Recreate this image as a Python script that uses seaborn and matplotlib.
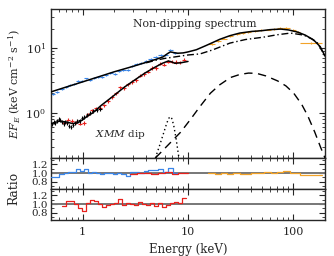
import matplotlib
matplotlib.use('Agg')
import matplotlib.pyplot as plt
import matplotlib.ticker as mticker
import numpy as np
import seaborn as sns

# ---- colours ----
BLUE = '#3b86e8'
RED = '#e8211d'
ORANGE = '#f2a329'

# ---- non-dipping model (solid) ----
nondip_E = [0.5, 0.7, 1, 1.5, 2, 3, 4, 5, 5.8, 6.4, 6.8, 7.3, 8, 9, 10, 12, 15, 20, 25, 31,
            40, 50, 60, 76, 90, 110, 130, 156, 180, 200]
nondip_F = [2.1, 2.5, 3.0, 3.7, 4.3, 5.2, 6.0, 6.7, 7.3, 8.2, 8.7, 8.5, 8.3, 8.4, 8.7, 9.4, 11.0,
            13.6, 15.5, 17.0, 18.0, 18.5, 19.2, 19.6, 19.0, 17.6, 15.8, 13.3, 10.5, 7.5]

# ---- continuum component (dash-dot) ----
cont_E = [4, 5, 6, 8, 10, 13, 17, 25, 35, 52, 70, 94, 126, 150, 170, 200]
cont_F = [5.9, 6.5, 6.9, 7.4, 7.8, 8.1, 9.3, 11.9, 13.5, 14.7, 16.0, 17.0, 15.8, 13.8, 11.9, 7.5]

# ---- reflection bump (dashed) ----
refl_E = [4.9, 6.5, 8.5, 10.5, 13, 16.3, 20, 25.3, 31, 37.6, 45, 55, 71, 85, 101, 120, 137, 160, 182, 200]
refl_F = [0.2, 0.32, 0.5, 0.78, 1.25, 2.0, 2.7, 3.5, 3.9, 4.1, 4.05, 3.7, 3.1, 2.6, 2.0, 1.35, 0.9, 0.5, 0.29, 0.2]

# ---- iron line (dotted) ----
line_E = [4.9, 5.4, 5.9, 6.3, 6.6, 6.8, 7.0, 7.3, 7.7, 8.2]
line_F = [0.2, 0.32, 0.5, 0.7, 0.83, 0.87, 0.82, 0.65, 0.4, 0.2]

# ---- dip model (solid through red) ----
dip_E = [0.5, 0.6, 0.7, 0.8, 0.9, 1.0, 1.1, 1.25, 1.5, 1.9, 2.5, 3.2, 3.9, 4.8, 5.7, 6.5, 7.0, 7.5, 8.5, 10]
dip_F = [0.68, 0.74, 0.72, 0.68, 0.7, 0.78, 0.88, 1.0, 1.3, 1.75, 2.5, 3.3, 4.1, 5.0, 5.8, 6.3, 6.1, 5.8, 5.9, 6.2]

# ---- blue data (non-dip, soft) ----
blue_edges = [0.5, 0.55, 0.6, 0.66, 0.72, 0.79, 0.86, 0.94, 1.03, 1.12, 1.22, 1.33, 1.45, 1.6, 1.75,
              1.92, 2.1, 2.3, 2.55, 2.8, 3.1, 3.4, 3.8, 4.2, 4.7, 5.2, 5.8, 6.4, 7.2, 8.0]
blue_flux = [1.96, 2.07, 2.34, 2.48, 2.64, 2.79, 3.08, 3.09, 3.38, 3.26, 3.45, 3.53, 3.59, 3.88, 4.11,
             4.03, 4.46, 4.60, 4.58, 5.28, 5.60, 5.79, 6.35, 6.84, 7.16, 7.84, 7.75, 9.3, 8.4]
blue_ratio = [0.91, 0.92, 0.99, 1.0, 1.02, 1.03, 1.09, 1.04, 1.09, 1.01, 1.02, 1.0, 0.97, 1.0, 1.01,
              0.99, 1.0, 0.98, 0.93, 1.02, 1.03, 1.01, 1.05, 1.07, 1.06, 1.1, 1.02, 1.11, 1.0]

# ---- red data (dip) ----
red_edges = [0.64, 0.70, 0.76, 0.83, 0.91, 0.99, 1.08, 1.18, 1.29, 1.40, 1.53, 1.67, 1.83, 1.99, 2.18,
             2.38, 2.59, 2.83, 3.09, 3.37, 3.68, 4.02, 4.39, 4.79, 5.23, 5.71, 6.24, 6.81, 7.43, 8.11,
             8.86, 9.67]
red_flux = [0.69, 0.78, 0.75, 0.71, 0.68, 0.70, 0.95, 1.09, 1.17, 1.2, 1.3, 1.52, 1.76, 2.0, 2.46,
            2.4, 2.75, 3.0, 3.2, 3.74, 4.0, 4.31, 4.9, 4.94, 5.72, 5.53, 6.17, 6.18, 6.09, 6.02, 6.6]
red_ratio = [0.96, 1.08, 1.07, 1.0, 0.9, 0.85, 1.03, 1.09, 1.06, 1.0, 0.94, 0.98, 1.0, 1.03, 1.12,
             0.98, 1.02, 1.0, 0.97, 1.04, 1.0, 0.98, 1.02, 0.96, 1.03, 0.93, 0.98, 1.03, 1.05, 1.02, 1.14]

# red points that also sit in the first ratio panel
red1_edges = [2.8, 3.3, 3.9, 4.5, 5.2, 6.0, 7.0, 8.0, 9.0, 10.0]
red1_ratio = [0.99, 1.0, 1.01, 0.99, 1.0, 1.02, 0.99, 1.01, 1.0]

# ---- black XMM dip data ----
black_edges = [0.5, 0.52, 0.54, 0.56, 0.58, 0.6, 0.62, 0.645, 0.67, 0.7, 0.73, 0.76, 0.79, 0.83, 0.87,
               0.91, 0.96, 1.01, 1.07, 1.14, 1.22, 1.31, 1.41, 1.52]
black_flux = [0.66, 0.72, 0.70, 0.76, 0.80, 0.78, 0.72, 0.68, 0.73, 0.70, 0.63, 0.61, 0.65, 0.70, 0.74,
              0.76, 0.82, 0.86, 0.92, 0.98, 1.05, 1.1, 1.15]

# ---- orange data (hard X-ray) ----
orange_edges = [15.6, 18, 20.5, 23.5, 27, 31, 35, 40, 46, 53, 61, 70, 80, 92, 105, 117, 187]
orange_flux = [11.5, 12.8, 14.0, 15.2, 16.3, 17.2, 17.8, 18.3, 18.8, 19.3, 19.6, 20.2, 20.5, 18.9, 17.8, 12.0]
orange_ratio = [1.0, 0.99, 1.0, 0.99, 1.01, 0.98, 0.99, 1.0, 1.01, 1.02, 1.0, 1.03, 1.05, 1.01, 1.0, 0.96]


def binned(ax, edges, flux, relerr, color, lw=0.8):
    e = np.asarray(edges)
    lo, hi = e[:-1], e[1:]
    c = np.sqrt(lo * hi)
    f = np.asarray(flux)
    ax.errorbar(c, f, xerr=[c - lo, hi - c], yerr=f * relerr, fmt='none',
                ecolor=color, elinewidth=lw, capsize=0, zorder=2)


def steps(ax, edges, vals, color):
    sns.lineplot(x=edges, y=list(vals) + [vals[-1]], ax=ax, color=color,
                 drawstyle='steps-post', lw=0.9, zorder=3)


sns.set_style('ticks')
plt.rcParams['font.family'] = ['DejaVu Serif']
plt.rcParams['mathtext.fontset'] = 'dejavuserif'
for a in ('x', 'y'):
    plt.rcParams[f'{a}tick.direction'] = 'in'
    plt.rcParams[f'{a}tick.major.size'] = 4.5
    plt.rcParams[f'{a}tick.minor.size'] = 2.2
    plt.rcParams[f'{a}tick.major.width'] = 0.8
    plt.rcParams[f'{a}tick.minor.width'] = 0.6
plt.rcParams['axes.linewidth'] = 1.0

fig = plt.figure(figsize=(3.34, 2.56), dpi=100)
ax = fig.add_axes([0.1527, 0.3828, 0.8204, 0.582])
r1 = fig.add_axes([0.1527, 0.2617, 0.8204, 0.1211])
r2 = fig.add_axes([0.1527, 0.1406, 0.8204, 0.1211])

for a in (ax, r1, r2):
    a.set_xscale('log')
    a.set_xlim(0.5, 200)
    a.tick_params(which='both', top=True, right=True)
ax.set_yscale('log')
ax.set_ylim(0.2, 40)

# data
binned(ax, blue_edges, blue_flux, 0.035, BLUE)
binned(ax, red_edges, red_flux, 0.06, RED)
binned(ax, black_edges, black_flux, 0.07, 'black')
binned(ax, orange_edges, orange_flux, 0.03, ORANGE)

# models
sns.lineplot(x=nondip_E, y=nondip_F, ax=ax, color='black', lw=1.1, zorder=4)
sns.lineplot(x=cont_E, y=cont_F, ax=ax, color='black', lw=1.0, zorder=4,
             linestyle=(0, (5, 2, 1, 2)))
sns.lineplot(x=refl_E, y=refl_F, ax=ax, color='black', lw=1.0, zorder=4, linestyle=(0, (6, 4)))
sns.lineplot(x=line_E, y=line_F, ax=ax, color='black', lw=1.0, zorder=4, linestyle=(0, (1, 2)))
sns.lineplot(x=dip_E, y=dip_F, ax=ax, color='black', lw=1.1, zorder=4)

ax.text(0.30, 0.90, 'Non-dipping spectrum', transform=ax.transAxes, fontsize=7.8,
        ha='left', va='center')
ax.text(0.16, 0.155, r'$\mathit{XMM}$ dip', transform=ax.transAxes, fontsize=7.5,
        ha='left', va='center')
ax.set_ylabel(r'$EF_E$ (keV cm$^{-2}$ s$^{-1}$)', fontsize=8, labelpad=2)
ax.tick_params(labelsize=8, labelbottom=False)

# ratio panels
for r in (r1, r2):
    r.axhline(1.0, color='#777777', lw=1.4, zorder=1)
    r.set_ylim(0.64, 1.34)
    r.set_yticks([0.8, 1.0, 1.2])
    r.yaxis.set_minor_locator(mticker.MultipleLocator(0.1))
    r.yaxis.set_major_formatter(mticker.FormatStrFormatter('%.1f'))
    r.tick_params(labelsize=7.5, pad=2)
steps(r1, blue_edges, blue_ratio, BLUE)
steps(r1, red1_edges, red1_ratio, RED)
steps(r1, orange_edges, orange_ratio, ORANGE)
steps(r2, red_edges, red_ratio, RED)
r1.tick_params(labelbottom=False)

r2.xaxis.set_major_formatter(mticker.FuncFormatter(lambda v, p: f'{v:g}'))
r2.tick_params(axis='x', labelsize=8, pad=5)
r2.set_xlabel('Energy (keV)', fontsize=8.5, labelpad=4)
fig.text(0.042, 0.262, 'Ratio', rotation=90, fontsize=8.8, ha='center', va='center')

fig.savefig('out.png', dpi=100)
